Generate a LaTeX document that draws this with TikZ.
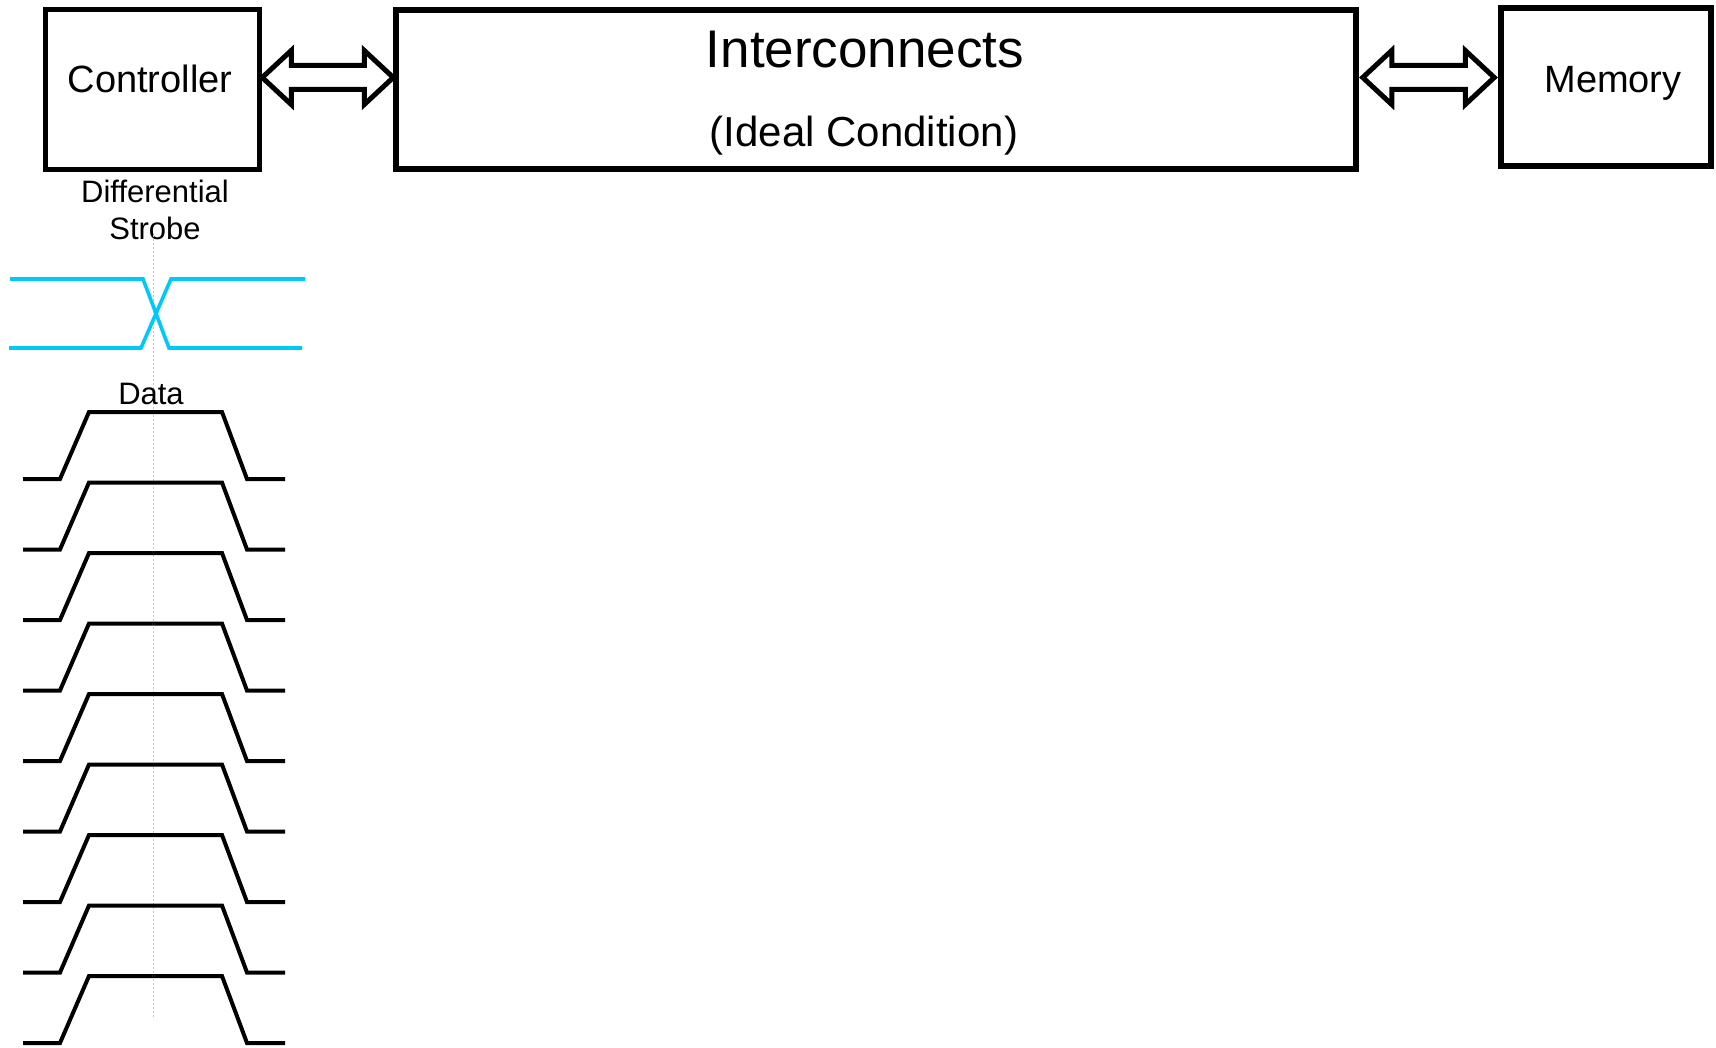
\documentclass[tikz,border=0pt]{standalone}
\usepackage{fontspec}
\setmainfont{Liberation Sans}
\usepackage{tikz}
\usetikzlibrary{positioning,calc}

\definecolor{strobecol}{RGB}{0,200,250}
\definecolor{guidegray}{RGB}{200,200,200}

% wide double arrow between two tips
\newcommand{\wideArrow}[2]{%
  \draw[fatarrow] (#1) -- ++(29,-27) -- ++(0,15) -- ($(#2)+(-29,-12)$) -- ++(0,-15)
    -- (#2) -- ++(-29,27) -- ++(0,-15) -- ($(#1)+(29,12)$) -- ++(0,15) -- cycle;}

\begin{document}
\begin{tikzpicture}[
    x=1pt, y=-1pt,
    block/.style={rectangle, draw, line width=5.5pt, inner sep=0pt},
    boxtxt/.style={font=\fontsize{38}{44}\selectfont, anchor=base},
    smalltxt/.style={font=\fontsize{31}{37}\selectfont, anchor=base, align=center},
    fatarrow/.style={draw, line width=5pt, fill=white, line join=miter},
    strobe/.style={draw=strobecol, line width=3.6pt},
    dataline/.style={line width=4pt},
    guide/.style={draw=guidegray, line width=1pt, dash pattern=on 2pt off 2pt}
]
\useasboundingbox (0,0) rectangle (1716,1048);

% Blocks
\node[block, minimum width=214pt, minimum height=160pt] (ctrl) at (152.5,89.5) {};
\node[block, minimum width=960pt, minimum height=159pt] (ic) at (876,89.5) {};
\node[block, minimum width=210pt, minimum height=158pt] (mem) at (1606,87) {};

\node[boxtxt] (ctrltxt) at (150,93) {Controller};
\node[boxtxt] (memtxt) at (1613,93) {Memory};
\node[boxtxt, font=\fontsize{53}{60}\selectfont] (ictxt) at (865,68) {Interconnects};
\node[boxtxt, font=\fontsize{42}{48}\selectfont] (idealtxt) at (864,147) {(Ideal Condition)};

% Links
\coordinate (row) at (0,77.5);
\coordinate (t1) at (ctrl.east |- row);
\coordinate (t2) at (ic.west |- row);
\coordinate (t3) at ($(ic.east |- row)+(4,0)$);
\coordinate (t4) at ($(mem.west |- row)+(-4,0)$);
\wideArrow{t1}{t2}
\wideArrow{t3}{t4}

% Strobe
\node[smalltxt] (strobetxt) at (155,240) {Differential\\Strobe};
\draw[guide] (153,235) -- (153,1017);
\draw[strobe] (10,279) -- (143,279) -- (169,348) -- (302,348);
\draw[strobe] (9,348) -- (141,348) -- (171,279) -- (305,279);

% Data
\node[smalltxt] (datatxt) at (151,404) {Data};
\foreach \k in {0,...,8} {
  \pgfmathsetmacro\hy{412+70.5*\k}
  \draw[dataline] (23,\hy+67) -- (60,\hy+67) -- (89,\hy) -- (222,\hy) -- (247,\hy+67) -- (285,\hy+67);
}

\end{tikzpicture}
\end{document}
